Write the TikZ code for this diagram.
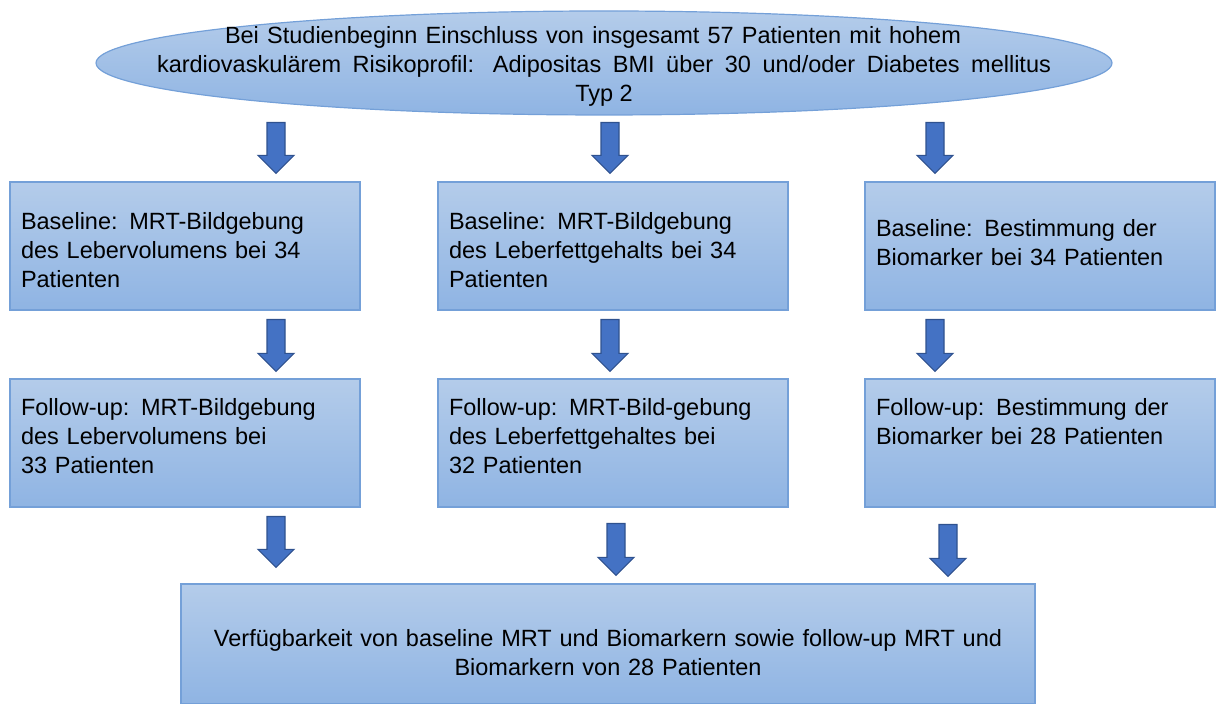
\documentclass[tikz,border=0pt]{standalone}
\usepackage{fontspec}
\setmainfont{Liberation Sans}
\usetikzlibrary{positioning,shapes.geometric,calc}
\definecolor{blauoben}{HTML}{B4CCEA}
\definecolor{blauunten}{HTML}{8FB4E3}
\definecolor{blaurand}{HTML}{74A0D8}
\definecolor{pfeilblau}{HTML}{4472C4}
\definecolor{pfeilrand}{HTML}{2F528F}
\tikzset{
  kasten/.style={rectangle, draw=blaurand, line width=0.6pt,
    top color=blauoben, bottom color=blauunten,
    minimum width=175pt, minimum height=64pt, text width=164pt,
    inner xsep=5.5pt, align=left},
  startellipse/.style={ellipse, draw=blaurand, line width=0.6pt,
    top color=blauoben, bottom color=blauunten,
    minimum width=508pt, minimum height=52pt, inner sep=0pt},
  blockpfeil/.style={draw=pfeilrand, fill=pfeilblau, line width=0.6pt,
    to path={let \p1=(\tikztostart), \p2=(\tikztotarget) in
      (\x1-4.5pt,\y1) -- (\x1-4.5pt,\y2+9pt) -- (\x1-9pt,\y2+9pt) -- (\x1,\y2)
      -- (\x1+9pt,\y2+9pt) -- (\x1+4.5pt,\y2+9pt) -- (\x1+4.5pt,\y1) -- cycle}}
}

\begin{document}
\begin{tikzpicture}[x=0.5pt, y=0.5pt, font=\fontsize{11.75pt}{14.5pt}\selectfont]
  \useasboundingbox (0,0) rectangle (1217,704);
  % Einschluss
  \node[startellipse, label={[align=center, yshift=-1.5pt]center:\makebox[379pt][l]{\makebox[368pt][s]{Bei Studienbeginn Einschluss von insgesamt 57 Patienten mit hohem}}\\
    \makebox[447pt][s]{kardiovaskulärem Risikoprofil: Adipositas BMI über 30 und/oder Diabetes mellitus}\\Typ 2}] (ell) at (604,641) {};
  % Baseline
  \node[kasten] (b11) at (185,458) {\rule{0pt}{13pt}Baseline: MRT-Bildgebung\\des Lebervolumens bei 34\\Patienten};
  \node[kasten] (b12) at (613,458) {\rule{0pt}{13pt}Baseline: MRT-Bildgebung\\des Leberfettgehalts bei 34\\Patienten};
  \node[kasten] (b13) at (1040,458) {Baseline: Bestimmung der\\Biomarker bei 34 Patienten\rule[-3pt]{0pt}{3pt}};
  % Follow-up
  \node[kasten] (b21) at (185,261) {Follow-up: MRT-Bildgebung\\des Lebervolumens bei\\33 Patienten\rule[-7pt]{0pt}{7pt}};
  \node[kasten] (b22) at (613,261) {Follow-up: MRT-Bild-gebung\\des Leberfettgehaltes bei\\32 Patienten\rule[-7pt]{0pt}{7pt}};
  \node[kasten] (b23) at (1040,261) {Follow-up: Bestimmung der\\Biomarker bei 28 Patienten\\\rule[-7pt]{0pt}{7pt}};
  % Verfuegbarkeit
  \node[kasten, minimum width=427pt, minimum height=60pt, text width=416pt, align=center] (ende) at (608,60)
    {\rule{0pt}{17pt}Verfügbarkeit von baseline MRT und Biomarkern sowie follow-up MRT und\\Biomarkern von 28 Patienten};

  \coordinate (s1) at (276,0);
  \coordinate (s2) at (610,0);
  \coordinate (s3) at (935,0);

  \draw[blockpfeil] ($(ell.south -| s1)+(0,-7)$) to ($(b11.north -| s1)+(0,8)$);
  \draw[blockpfeil] ($(ell.south -| s2)+(0,-7)$) to ($(b12.north -| s2)+(0,8)$);
  \draw[blockpfeil] ($(ell.south -| s3)+(0,-7)$) to ($(b13.north -| s3)+(0,8)$);
  \draw[blockpfeil] ($(b11.south -| s1)+(0,-9)$) to ($(b21.north -| s1)+(0,7)$);
  \draw[blockpfeil] ($(b12.south -| s2)+(0,-9)$) to ($(b22.north -| s2)+(0,7)$);
  \draw[blockpfeil] ($(b13.south -| s3)+(0,-9)$) to ($(b23.north -| s3)+(0,7)$);
  \draw[blockpfeil] ($(b21.south -| s1)+(0,-9)$) to ($(ende.north -| s1)+(0,16)$);
  \draw[blockpfeil] ($(b22.south -| s2)+(6,-16)$) to ($(ende.north -| s2)+(6,8)$);
  \draw[blockpfeil] ($(b23.south -| s3)+(13,-17)$) to ($(ende.north -| s3)+(13,7)$);
\end{tikzpicture}
\end{document}
